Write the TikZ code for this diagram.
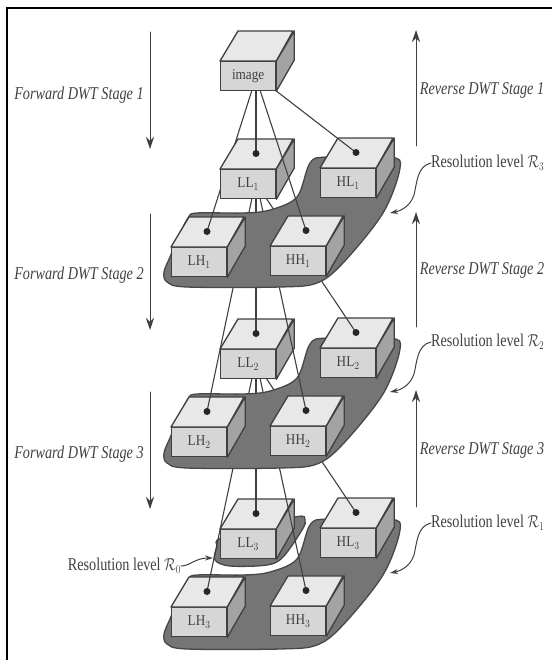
\documentclass[tikz,border=0pt]{standalone}
\usepackage{fontspec}
\setmainfont{Liberation Serif}
\usetikzlibrary{arrows.meta}
\definecolor{inkg}{HTML}{404040}
\definecolor{blobg}{HTML}{757575}
\tikzset{
	face/.style={draw=inkg, line width=1.3pt, line join=round},
	boxfront/.style={face, fill=black!16, text=inkg, anchor=north west, minimum width=55pt, minimum height=29pt, inner sep=0pt, font=\fontsize{15}{15}\selectfont},
	blob/.style={fill=blobg, draw=black!72, line width=1.3pt},
	conn/.style={draw=inkg, line width=1.1pt},
	stage/.style={draw=inkg, line width=.9pt, -{Stealth[length=12pt,width=8pt]}},
	lab/.style={text=black!75, inner sep=0pt, xscale=.79, font=\fontsize{18}{18}\selectfont},
	curvy/.style={draw=inkg, line width=1pt, -{Stealth[length=8pt,width=5pt]}}
}
\newcommand{\dwtbox}[4]{%
	\node[boxfront] (#1) at (#2,#3) {\scalebox{.88}[1]{#4}};
	\draw[face, fill=black!9] (#1.north west) -- ++(18,-30) -- ++(55,0) -- (#1.north east) -- cycle;
	\draw[face, fill=black!36] (#1.north east) -- ++(18,-30) -- ++(0,29) -- (#1.south east) -- cycle;
}
\newcommand{\blobpath}{plot[smooth cycle, tension=.55] coordinates {(197,213) (243,213) (270,210) (297,197) (310,163) (327,157) (390,157) (400,168) (383,213) (343,263) (317,283) (280,287) (187,287) (167,282) (164,272) (170,257) (177,240) (188,218)}}
\begin{document}
\begin{tikzpicture}[x=1pt, y=-1pt, line cap=round]
	\useasboundingbox (0,0) rectangle (552,660);
	\fill[white] (0,0) rectangle (552,660);
	% frame
	\draw[line width=2.4pt, line cap=butt] (7,660) -- (7,8) -- (552,8);
	
	% start points of the lines
	\foreach \n/\x/\y/\h in {image/220/61/55, LL1/220/169/46, LL2/220/349/46}{
		\coordinate (\n a) at (\x+32,\y+29);
		\coordinate (\n b) at (\x+36,\y+29);
		\coordinate (\n c) at (\x+40,\y+29);
		\coordinate (\n e) at (\x+\h,\y+29);
	}
	
	% R0
	\draw[blob] plot[smooth cycle, tension=.55] coordinates {(295,517) (305,520) (302,530) (283,557) (267,565) (230,566) (215,560) (217,547) (223,537)};
	
	\foreach \lev/\up/\dy/\bdy in {3/LL2/360/362, 2/LL1/180/181, 1/image/0/0}{
		\draw[blob, shift={(0,\bdy)}] \blobpath;
		\foreach \n/\x/\y in {LH/171/247, HH/270/246, HL/320/168, LL/220/169}
		\coordinate (\n\lev d) at (\x+36,\y+\dy-15.5);
		\foreach \n/\x/\y in {LH/171/247, HH/270/246, HL/320/168}
		\dwtbox{\n\lev}{\x}{\y+\dy}{\n$_\lev$};
		\draw[conn] (\up a)--(LH\lev d);
		\dwtbox{LL\lev}{220}{169+\dy}{LL$_\lev$};
		\draw[conn] (\up b)--(LL\lev d);
		\draw[conn] (\up c)--(HH\lev d);
		\draw[conn] (\up e)--(HL\lev d);
		\foreach \n in {LH, HH, HL, LL}
		\fill[black!85] (\n\lev d) circle (3.5pt);
	}
	\dwtbox{image}{220}{61}{image};
	
	% stages
	\foreach \i/\y/\ya/\yb in {1/32/149/95, 2/214/330/275, 3/392/509/454}{
		\coordinate (f\i a) at (150,\y);
		\coordinate (f\i b) at (150,\ya);
		\draw[stage] (f\i a)--(f\i b);
		\node[lab] (f\i) at (79,\yb) {\itshape Forward DWT Stage \i};
	}
	\foreach \i/\y/\ya/\yb in {1/146/30/90, 2/327/212/270, 3/507/390/450}{
		\coordinate (r\i a) at (416,\y);
		\coordinate (r\i b) at (416,\ya);
		\draw[stage] (r\i a)--(r\i b);
		\node[lab] (r\i) at (482,\yb) {\itshape Reverse DWT Stage \i};
	}
	
	% resolution levels
	\foreach \i/\y in {3/163, 2/342, 1/523}{
		\node[lab, anchor=west] (res\i) at (431,\y) {Resolution level $\mathcal{R}_\i$};
		\coordinate (tip\i) at (390,\y+50);
		\draw[curvy] (res\i.west) .. controls (417,\y+3) and (417,\y+20) .. (414,\y+32) .. controls (410,\y+44) and (400,\y+48) .. (tip\i);
	}
	\node[lab, anchor=east] (res0) at (181,566) {Resolution level $\mathcal{R}_0$};
	\coordinate (tip0) at (213,558);
	\draw[curvy] (res0.east) .. controls (190,566) and (195,558) .. (tip0);
\end{tikzpicture}
\end{document}
